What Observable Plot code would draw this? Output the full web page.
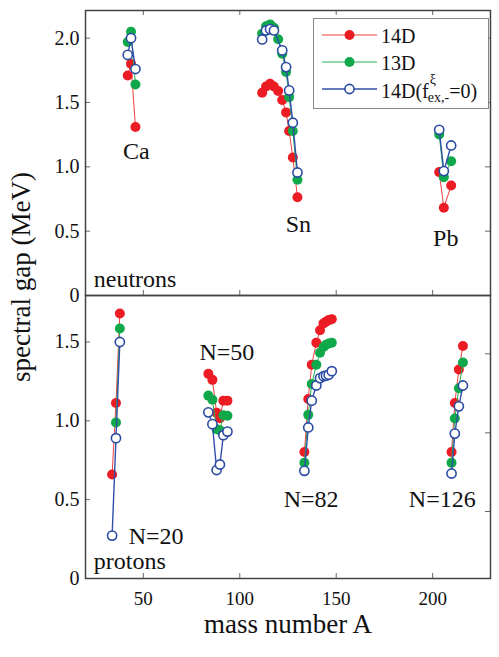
<!DOCTYPE html>
<html><head><meta charset="utf-8">
<script src="https://cdn.jsdelivr.net/npm/d3@7"></script>
<script src="https://cdn.jsdelivr.net/npm/@observablehq/plot@0.6"></script>
<style>
body{margin:0;background:#fff;}
#wrap{position:relative;width:499px;height:657px;background:#fff;overflow:hidden;font-family:"Liberation Serif","Times New Roman",serif;}
#wrap svg{position:absolute;left:0;background:transparent;}
</style></head><body><div id="wrap"></div>
<script>
// ---------- data ----------
const seriesNames = ["14D", "13D", "14D(f_ex,-^ξ=0)"];
const seriesColors = ["#ec1c24", "#0fa84a", "#2b4ba3"];
const lineColors = ["#f04040", "#25b050", "#3050a8"];

// neutrons (top panel)
const caA = [41.9, 43.6, 45.9];
const ca14D = [1.71, 1.80, 1.31];
const ca13D = [1.97, 2.05, 1.64];
const caF0 = [1.87, 2.00, 1.76];

const snA = [111.6, 113.6, 115.7, 117.7, 119.9, 122.0, 124.0, 125.6, 127.5, 129.9];
const sn14D = [1.576, 1.625, 1.646, 1.625, 1.589, 1.52, 1.423, 1.278, 1.073, 0.764];
const sn13D = [2.035, 2.092, 2.107, 2.081, 1.991, 1.879, 1.737, 1.542, 1.278, 0.90];
const snF0 = [1.99, 2.06, 2.07, 2.06, null, 1.905, 1.775, 1.594, 1.343, 0.956];

const pbA = [203.4, 205.8, 209.6];
const pb14D = [0.959, 0.682, 0.855];
const pb13D = [1.252, 0.92, 1.044];
const pbF0 = [1.288, 0.967, 1.166];

// protons (bottom panel)
const n20A = [33.8, 35.8, 37.8];
const n20_14D = [0.66, 1.113, 1.681];
const n20_13D = [null, 0.99, 1.586];
const n20F0 = [0.272, 0.89, 1.50];

const n50A = [83.7, 85.8, 88.0, 89.7, 91.5, 93.6];
const n50_14D = [1.298, 1.26, 1.052, 1.017, 1.128, 1.128];
const n50_13D = [1.16, 1.134, 0.947, 0.94, 1.036, 1.032];
const n50F0 = [1.054, 0.979, 0.688, 0.723, 0.909, 0.932];

const n82A = [133.5, 135.5, 137.3, 139.7, 141.6, 143.4, 144.7, 146.1, 147.7];
const n82_14D = [0.802, 1.139, 1.356, 1.496, 1.575, 1.618, 1.628, 1.639, 1.645];
const n82_13D = [0.734, 1.038, 1.234, 1.356, 1.432, 1.468, 1.483, 1.49, 1.496];
const n82F0 = [0.683, 0.958, 1.128, 1.224, 1.271, 1.283, 1.287, 1.292, 1.315];

const n126A = [209.8, 211.5, 213.6, 215.7];
const n126_14D = [0.802, 1.113, 1.326, 1.475];
const n126_13D = [0.734, 1.015, 1.207, 1.37];
const n126F0 = [0.666, 0.919, 1.092, 1.224];

// ticks
const xTicks = [50, 100, 150, 200];
const topYTicks = [0, 0.5, 1.0, 1.5, 2.0];
const botYTicks = [0, 0.5, 1.0, 1.5];
const botRightTicks = [0.425, 0.924, 1.425];

// labels
const topLabels = [{text: "Ca", x: 46.3, y: 1.12}, {text: "Sn", x: 130.4, y: 0.557}, {text: "Pb", x: 206.8, y: 0.446}];
const topCornerLabel = [{text: "neutrons", x: 24.3, y: 0.124}];
const botLabels = [{text: "N=50", x: 93.3, y: 1.436}, {text: "N=20", x: 56.6, y: 0.27}, {text: "N=82", x: 137.0, y: 0.503}, {text: "N=126", x: 205.0, y: 0.503}];
const botCornerLabel = [{text: "protons", x: 24.3, y: 0.11}];

// ---------- build rows ----------
function rows(group, A, vals) {
  return A.map((a, i) => ({group, A: a, v: vals[i]})).filter(d => d.v != null);
}
const topSeries = [
  [...rows("Ca", caA, ca14D), ...rows("Sn", snA, sn14D), ...rows("Pb", pbA, pb14D)],
  [...rows("Ca", caA, ca13D), ...rows("Sn", snA, sn13D), ...rows("Pb", pbA, pb13D)],
  [...rows("Ca", caA, caF0), ...rows("Sn", snA, snF0), ...rows("Pb", pbA, pbF0)]
];
const botSeries = [
  [...rows("N20", n20A, n20_14D), ...rows("N50", n50A, n50_14D), ...rows("N82", n82A, n82_14D), ...rows("N126", n126A, n126_14D)],
  [...rows("N20", n20A, n20_13D), ...rows("N50", n50A, n50_13D), ...rows("N82", n82A, n82_13D), ...rows("N126", n126A, n126_13D)],
  [...rows("N20", n20A, n20F0), ...rows("N50", n50A, n50F0), ...rows("N82", n82A, n82F0), ...rows("N126", n126A, n126F0)]
];

const FONT = "'Liberation Serif', 'Times New Roman', serif";
const fmt = d => d === 0 ? "0" : d.toFixed(1);
const frameColor = "#444";
const tickColor = "#666";
const W = 499, ML = 85, MR = 9;
const frameW = W - ML - MR;

function seriesMarks(series) {
  const m = [];
  series.forEach((data, i) => {
    m.push(Plot.line(data, {x: "A", y: "v", z: "group", stroke: lineColors[i], strokeWidth: i === 2 ? 1.4 : 1}));
    if (i < 2) m.push(Plot.dot(data, {x: "A", y: "v", r: 5, fill: seriesColors[i], stroke: "none"}));
    else m.push(Plot.dot(data, {x: "A", y: "v", r: 4.6, fill: "white", stroke: seriesColors[i], strokeWidth: 1.6}));
  });
  return m;
}

function innerTicks(yt, ytRight, frameH, xTop, xBottom) {
  const m = [
    Plot.tickY(yt, {y: d => d, insetRight: frameW - 5, stroke: tickColor, strokeWidth: 1}),
    Plot.tickY(ytRight, {y: d => d, insetLeft: frameW - 5, stroke: tickColor, strokeWidth: 1})
  ];
  if (xTop) m.push(Plot.tickX(xTicks, {x: d => d, insetBottom: frameH - 5, stroke: tickColor, strokeWidth: 1}));
  if (xBottom) m.push(Plot.tickX(xTicks, {x: d => d, insetTop: frameH - 5, stroke: tickColor, strokeWidth: 1}));
  return m;
}

// ---------- top panel ----------
const topH = 296, topMT = 10, topMB = 1;
const topPlot = Plot.plot({
  width: W, height: topH,
  marginLeft: ML, marginRight: MR, marginTop: topMT, marginBottom: topMB,
  style: {fontFamily: FONT, background: "transparent", overflow: "visible"},
  x: {domain: [20, 230], axis: null},
  y: {domain: [0, 2.215], axis: null},
  marks: [
    ...innerTicks(topYTicks.filter(d => d > 0), topYTicks.filter(d => d > 0), topH - topMT - topMB, true, true),
    Plot.axisY({ticks: topYTicks, tickSize: 0, tickPadding: 6, tickFormat: fmt, fontSize: 20, label: null, anchor: "left", fill: "#111"}),
    ...seriesMarks(topSeries),
    Plot.text(topLabels, {x: "x", y: "y", text: "text", fontSize: 24, fill: "#111"}),
    Plot.text(topCornerLabel, {x: "x", y: "y", text: "text", fontSize: 24, textAnchor: "start", fill: "#111"}),
    Plot.frame({stroke: frameColor, strokeWidth: 1.5})
  ]
});
topPlot.style.top = "0px";

// ---------- bottom panel ----------
const botTop = 290, botH = 367, botMT = 5, botMB = 79;
const botPlot = Plot.plot({
  width: W, height: botH,
  marginLeft: ML, marginRight: MR, marginTop: botMT, marginBottom: botMB,
  style: {fontFamily: FONT, background: "transparent", overflow: "visible"},
  x: {domain: [20, 230], axis: null},
  y: {domain: [0, 1.795], axis: null},
  marks: [
    ...innerTicks(botYTicks.filter(d => d > 0), botRightTicks, botH - botMT - botMB, false, true),
    Plot.axisY({ticks: botYTicks, tickSize: 0, tickPadding: 6, tickFormat: fmt, fontSize: 20, label: null, anchor: "left", fill: "#111"}),
    Plot.axisX({ticks: xTicks, tickSize: 0, tickPadding: 13, fontSize: 19, label: null, anchor: "bottom", fill: "#111"}),
    Plot.text(["mass number A"], {text: d => d, frameAnchor: "bottom", dy: 54, fontSize: 27, fill: "#111"}),
    ...seriesMarks(botSeries),
    Plot.text(botLabels, {x: "x", y: "y", text: "text", fontSize: 24, fill: "#111"}),
    Plot.text(botCornerLabel, {x: "x", y: "y", text: "text", fontSize: 24, textAnchor: "start", fill: "#111"}),
    Plot.frame({stroke: frameColor, strokeWidth: 1.5})
  ]
});
botPlot.style.top = botTop + "px";

const wrap = document.getElementById("wrap");
wrap.appendChild(botPlot);
wrap.appendChild(topPlot);

// ---------- overlay: y title + legend ----------
const ov = d3.select(wrap).append("svg").attr("width", W).attr("height", 657)
  .style("top", "0px").style("font-family", FONT).style("pointer-events", "none");

ov.append("text").attr("transform", "translate(30,277) rotate(-90)")
  .attr("text-anchor", "middle").attr("font-size", 27).attr("fill", "#111")
  .text("spectral gap (MeV)");

const lg = ov.append("g");
lg.append("rect").attr("x", 313.5).attr("y", 18.5).attr("width", 175).attr("height", 90)
  .attr("fill", "white").attr("stroke", "#888").attr("stroke-width", 1);
const rowsY = [35, 62, 89];
rowsY.forEach((y, i) => {
  lg.append("line").attr("x1", 322).attr("x2", 377).attr("y1", y).attr("y2", y)
    .attr("stroke", lineColors[i]).attr("stroke-width", i === 2 ? 1.6 : 1.2);
  if (i < 2) lg.append("circle").attr("cx", 349.5).attr("cy", y).attr("r", 5).attr("fill", seriesColors[i]);
  else lg.append("circle").attr("cx", 349.5).attr("cy", y).attr("r", 4.6).attr("fill", "white")
    .attr("stroke", seriesColors[i]).attr("stroke-width", 1.6);
});
lg.append("text").attr("x", 381).attr("y", 42.7).attr("font-size", 20).attr("fill", "#111").text("14D");
lg.append("text").attr("x", 381).attr("y", 69.7).attr("font-size", 20).attr("fill", "#111").text("13D");
const t3 = lg.append("text").attr("x", 381).attr("y", 97.5).attr("font-size", 20).attr("fill", "#111").text("14D(f");
const w3 = t3.node().getComputedTextLength();
lg.append("text").attr("x", 381 + w3 + 1).attr("y", 84).attr("font-size", 14).attr("fill", "#111").text("ξ");
const sub = lg.append("text").attr("x", 381 + w3 - 1).attr("y", 102).attr("font-size", 14).attr("fill", "#111").text("ex,-");
const ws = sub.node().getComputedTextLength();
lg.append("text").attr("x", 381 + w3 - 1 + ws).attr("y", 97.5).attr("font-size", 20).attr("fill", "#111").text("=0)");
</script></body></html>
